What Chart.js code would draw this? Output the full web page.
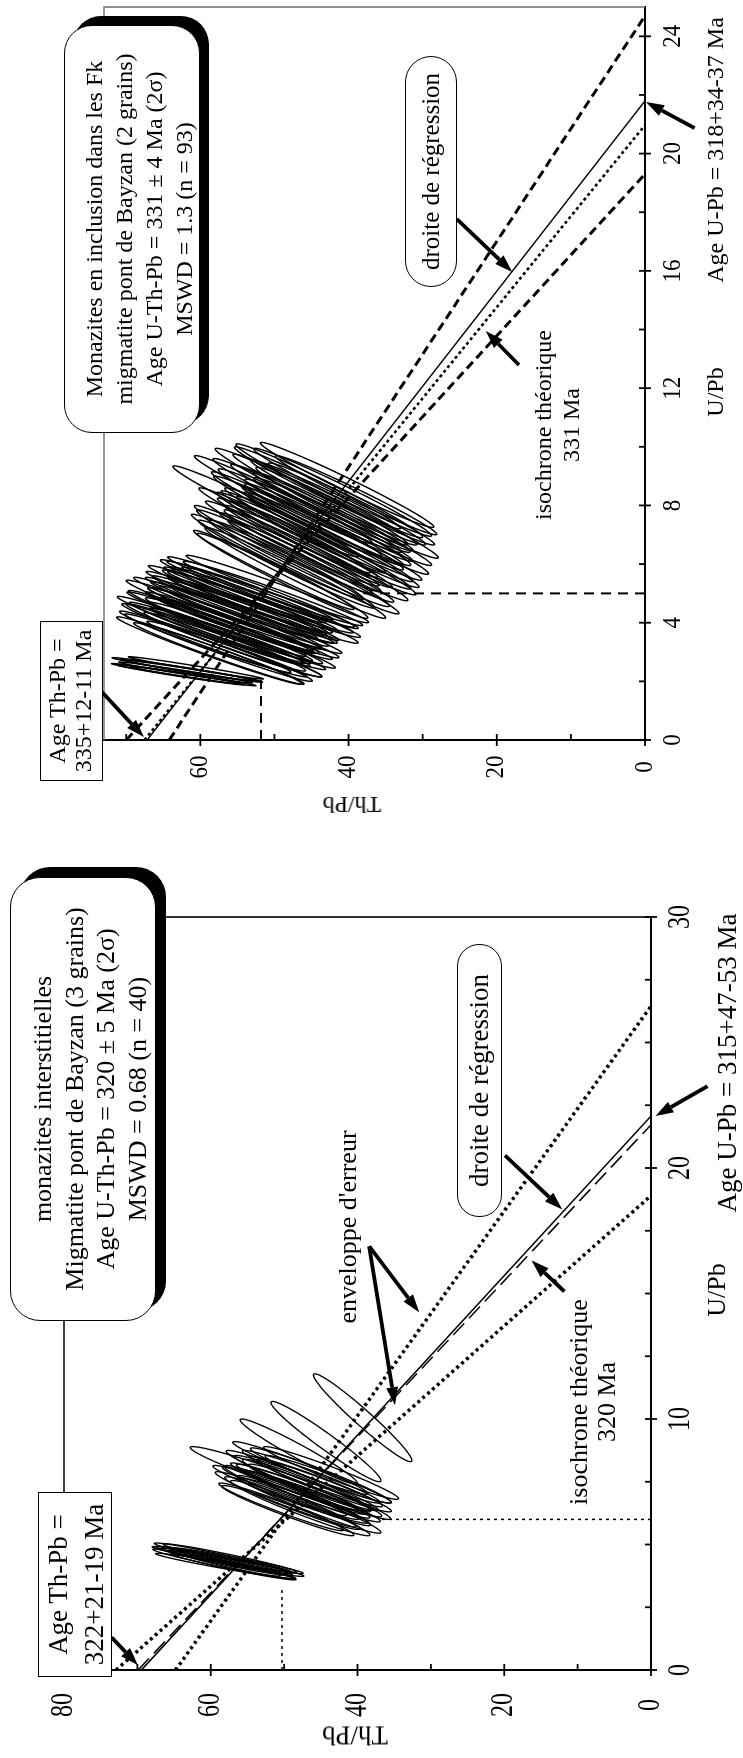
<!DOCTYPE html>
<html lang="fr"><head><meta charset="utf-8">
<script src="https://cdn.jsdelivr.net/npm/chart.js@4.4.1/dist/chart.umd.min.js"></script>
<style>
html,body{margin:0;padding:0;background:#fff}
body{position:relative;width:743px;height:1758px;overflow:hidden;font-family:"Liberation Serif","Times New Roman",serif;color:#000}
.panel{position:absolute;left:0;transform-origin:0 0;transform:rotate(-90deg)}
.panel canvas{position:absolute;left:0;top:0}
.c{position:absolute;white-space:nowrap;line-height:1;transform:translate(-50%,-50%);text-align:center}
.box{position:absolute;background:#fff;border:1.5px solid #000;box-sizing:border-box;text-align:center;white-space:nowrap}
</style></head><body>

<div class="panel" id="pTop" style="top:830px;width:830px;height:743px">
  <canvas id="cTop" width="830" height="743"></canvas>
  <div class="box" style="left:397px;top:64px;width:408px;height:136px;border-radius:28px;box-shadow:9px 9px 0 0 #000;font-size:24px;line-height:30px;padding-top:14px">Monazites en inclusion dans les Fk<br>migmatite pont de Bayzan (2 grains)<br>Age U-Th-Pb = 331 ± 4 Ma (2σ)<br>MSWD = 1.3 (n = 93)</div>
  <div class="box" style="left:49px;top:40px;width:160px;height:63px;font-size:24px;line-height:26px;padding-top:3px">Age Th-Pb =<br>335+12-11 Ma</div>
  <div class="box" style="left:543px;top:405px;width:231px;height:52px;border-radius:26px;font-size:25px;line-height:49px">droite de régression</div>
  <div class="c" style="left:405px;top:557px;font-size:24px;line-height:28px">isochrone théorique<br>331 Ma</div>
  <div class="c" style="left:438px;top:715px;font-size:24px">U/Pb</div>
  <div class="c" style="left:680px;top:715px;font-size:24px">Age U-Pb = 318+34-37 Ma</div>
  <div class="c" style="left:25px;top:352px;font-size:24px;transform:translate(-50%,-50%) rotate(-90deg)">Th/Pb</div>
</div>

<div class="panel" id="pBot" style="top:1758px;width:918px;height:743px">
  <canvas id="cBot" width="918" height="743"></canvas>
  <div class="box" style="left:437px;top:10px;width:444px;height:146px;border-radius:30px;box-shadow:10px 10px 0 0 #000;font-size:26px;line-height:31.5px;padding-top:16px">monazites interstitielles<br>Migmatite pont de Bayzan (3 grains)<br>Age U-Th-Pb = 320 ± 5 Ma (2σ)<br>MSWD = 0.68 (n = 40)</div>
  <div class="box" style="left:81px;top:38px;width:185px;height:74px;font-size:27px;line-height:36px;padding-top:1px">Age Th-Pb =<br>322+21-19 Ma</div>
  <div class="box" style="left:541px;top:457px;width:273px;height:45px;border-radius:22px;font-size:27px;line-height:42px">droite de régression</div>
  <div class="c" style="left:531px;top:348px;font-size:26px">enveloppe d'erreur</div>
  <div class="c" style="left:356px;top:593px;font-size:26px;line-height:28px">isochrone théorique<br>320 Ma</div>
  <div class="c" style="left:468px;top:717px;font-size:26px">U/Pb</div>
  <div class="c" style="left:695px;top:727px;font-size:27px">Age U-Pb = 315+47-53 Ma</div>
  <div class="c" style="left:23px;top:355px;font-size:27px;transform:translate(-50%,-50%) rotate(-90deg)">Th/Pb</div>
</div>

<script>
// ---------- DATA : panneau haut (monazites en inclusion) ----------
const topUMajor = [0, 4, 8, 12, 16, 20, 24];
const topUMinor = [2, 6, 10, 14, 18, 22];
const topThMajor = [0, 20, 40, 60];
const topThMinor = [10, 30, 50, 70];

const topEllU = [2.30,2.38,2.22,2.34,2.26,2.42,2.18,2.46,
  2.95,3.05,3.10,3.20,3.25,3.30,3.40,3.45,3.50,3.55,3.60,3.65,3.70,3.75,3.80,3.85,3.90,3.95,4.00,4.05,4.10,4.15,4.20,4.25,4.30,4.35,4.40,4.45,4.50,4.55,4.60,4.65,4.70,4.75,4.80,4.85,4.90,4.95,5.00,5.05,5.10,5.15,
  5.6,5.7,5.8,5.9,6.0,6.1,6.2,6.25,6.3,6.4,6.5,6.55,6.6,6.7,6.75,6.8,6.9,6.95,7.0,7.1,7.15,7.2,7.3,7.4,7.45,7.5,7.6,7.7,7.75,7.8,7.9,8.0,8.05,8.1,8.2,8.3,8.35,8.45,8.5,8.6,8.7,7.8,8.2];
const topEllTh = [62.0,61.4,62.6,60.8,63.2,62.4,61.0,60.6,
  57.5,58.8,56.4,57.9,55.6,59.0,56.8,54.9,58.2,56.0,57.4,54.6,55.9,58.6,53.8,56.6,55.2,57.8,54.2,56.1,53.2,55.4,57.0,52.9,54.7,56.3,52.4,54.0,55.8,51.9,53.6,55.1,51.2,53.0,54.6,50.6,52.4,54.0,50.2,51.8,53.3,49.6,
  48.9,47.2,50.1,46.0,48.4,45.1,47.5,49.6,44.4,46.5,48.8,43.5,45.4,47.6,42.8,44.7,46.9,42.1,44.0,46.1,48.6,41.6,43.5,45.4,40.8,42.7,44.6,47.0,40.2,42.1,43.8,45.6,39.6,41.4,43.2,45.0,39.0,40.8,42.6,44.2,40.2,51.2,48.8];
const topEllSU = [0.36,0.38,0.34,0.37,0.35,0.39,0.33,0.38,
  1.05,1.15,0.95,1.20,1.10,1.00,1.25,1.05,1.15,0.95,1.10,1.20,1.00,1.15,1.05,1.25,0.95,1.10,1.20,1.00,1.15,1.05,1.25,0.95,1.10,1.20,1.00,1.15,1.05,1.25,0.95,1.10,1.20,1.00,1.15,1.05,1.25,0.95,1.10,1.20,1.00,1.15,
  1.45,1.55,1.35,1.60,1.50,1.40,1.65,1.45,1.55,1.35,1.50,1.60,1.40,1.45,1.55,1.65,1.35,1.50,1.60,1.40,1.45,1.55,1.35,1.60,1.50,1.40,1.65,1.45,1.55,1.35,1.50,1.60,1.40,1.45,1.55,1.65,1.35,1.50,1.60,1.40,1.45,1.55,1.50];
const topEllSTh = [9.0,9.4,8.6,9.2,8.8,9.5,8.5,9.1,
  11.5,12.5,10.8,13.0,12.0,11.2,13.2,11.8,12.4,10.9,12.2,12.8,11.0,12.6,11.6,13.1,10.7,12.1,12.9,11.3,12.3,11.7,13.0,10.9,12.0,12.7,11.1,12.5,11.6,13.2,10.8,12.2,12.8,11.4,12.4,11.9,13.0,10.9,12.1,12.6,11.2,12.3,
  11.5,12.2,10.8,12.8,11.9,11.2,13.0,11.6,12.4,10.9,12.0,12.6,11.3,11.7,12.3,13.1,10.8,12.0,12.7,11.1,11.6,12.4,10.9,12.8,12.0,11.3,13.0,11.5,12.3,10.8,12.1,12.7,11.2,11.8,12.4,13.0,10.9,12.0,12.6,11.2,11.7,12.5,12.0];
const topRho = 0.985;

const topRegU = [0, 21.8],   topRegTh = [67.2, 0];     // droite de régression
const topIsoU = [0, 20.97],  topIsoTh = [67.55, 0];    // isochrone théorique 331 Ma
const topEnvAU = [0, 19.3],  topEnvATh = [70.0, 0];    // enveloppe d'erreur
const topEnvBU = [0, 24.7],  topEnvBTh = [64.2, 0];
const topProj1U = [5, 5],    topProj1Th = [0, 38];
const topProj2U = [0, 2.05], topProj2Th = [51.8, 51.8];

// ---------- DATA : panneau bas (monazites interstitielles) ----------
const botUMajor = [0, 10, 20, 30];
const botUMinor = [2.5, 5, 7.5, 12.5, 15, 17.5, 22.5, 25, 27.5];
const botThMajor = [0, 20, 40, 60, 80];
const botThMinor = [10, 30, 50, 70];

const botEllU = [4.30,4.42,4.20,4.36,4.50,4.15,4.28,4.46,4.24,4.38,4.12,
  6.35,6.45,6.5,6.6,6.65,6.75,6.8,6.9,6.95,7.0,7.05,7.1,7.2,7.25,7.3,7.35,7.45,7.5,7.55,7.6,7.7,7.75,7.15,7.85,
  10.05,9.1,8.7,8.05,7.6];
const botEllTh = [57.8,58.6,57.0,56.6,58.9,58.0,59.2,57.4,56.2,58.2,56.9,
  49.5,47.8,50.4,46.6,48.9,47.4,49.8,45.9,48.2,46.9,49.1,45.2,47.6,46.2,48.6,44.6,47.0,45.6,48.0,44.0,46.3,45.0,50.6,43.6,
  39.3,44.3,48.0,47.8,50.5];
const botEllSU = [0.55,0.50,0.58,0.52,0.56,0.50,0.54,0.57,0.51,0.55,0.53,
  1.00,1.10,0.95,1.15,1.05,0.90,1.10,1.00,1.20,0.95,1.05,1.10,1.00,1.15,0.95,1.05,1.10,1.00,1.20,0.95,1.05,1.10,1.00,1.05,
  1.75,1.6,1.3,1.05,1.3];
const botEllSTh = [9.0,9.4,8.6,9.2,8.8,9.5,8.7,9.1,8.9,9.3,8.5,
  9.0,9.5,8.5,9.8,9.2,8.8,9.6,9.0,10.0,8.6,9.3,9.7,8.9,9.5,8.7,9.2,9.8,9.0,9.9,8.6,9.4,9.6,9.1,9.2,
  6.7,7.5,8.0,9.2,12.3];
const botRho = 0.97;

const botRegU = [0, 22.07],  botRegTh = [69.45, 0];    // droite de régression
const botIsoU = [0, 21.72],  botIsoTh = [69.9, 0];     // isochrone théorique 320 Ma
const botEnvAU = [0, 18.9],  botEnvATh = [72.9, 0];    // enveloppe d'erreur
const botEnvBU = [0, 26.45], botEnvBTh = [64.8, 0];
const botProj1U = [6, 6],    botProj1Th = [0, 36.8];
const botProj2U = [0, 3.3],  botProj2Th = [50.3, 50.3];

// flèches d'annotation (queue U, queue Th, pointe U, pointe Th) en unités des axes
const topArrows = [[1.64,73.3,0.10,67.6],[20.87,-6.7,21.76,-0.13],[17.77,25.4,15.96,17.9],[12.79,17.0,13.95,21.5]];
const botArrows = [[1.30,73.5,0.19,69.9],[23.26,-7.7,22.07,-0.6],[20.5,19.9,18.35,12.1],[16.88,38.4,14.25,31.6],[16.88,38.4,10.55,34.9],[15.08,11.8,16.32,16.3]];

// ---------- rendering ----------
const pts = (xs, ys) => xs.map((v, i) => ({x: v, y: ys[i]}));
function lineDs(xs, ys, w, dash) {
  return {data: pts(xs, ys), showLine: true, pointRadius: 0, borderColor: '#000', borderWidth: w, borderDash: dash, fill: false, tension: 0};
}

const overlay = {
  id: 'overlay',
  afterDatasetsDraw(chart, args, o) {
    const {ctx, chartArea: a, scales: {x, y}} = chart;
    ctx.save();
    // ellipses
    ctx.strokeStyle = '#000'; ctx.lineWidth = o.ellW;
    const q = Math.sqrt(1 - o.rho * o.rho);
    for (let i = 0; i < o.eu.length; i++) {
      ctx.beginPath();
      for (let k = 0; k <= 90; k++) {
        const t = k / 90 * 2 * Math.PI;
        const u = o.eu[i] + o.su[i] * Math.cos(t);
        const th = o.eth[i] + o.sth[i] * (o.rho * Math.cos(t) + q * Math.sin(t));
        const px = x.getPixelForValue(u), py = y.getPixelForValue(th);
        if (k) ctx.lineTo(px, py); else ctx.moveTo(px, py);
      }
      ctx.closePath(); ctx.stroke();
    }
    // frame (top & right)
    ctx.strokeStyle = o.frameColor; ctx.lineWidth = 1.6;
    ctx.beginPath(); ctx.moveTo(a.left, a.top); ctx.lineTo(a.right, a.top); ctx.lineTo(a.right, a.bottom); ctx.stroke();
    // ticks
    ctx.strokeStyle = '#000'; ctx.lineWidth = 1.8;
    for (const t of x.ticks) {
      const px = x.getPixelForValue(t.value), maj = o.xMajor.includes(t.value);
      ctx.beginPath(); ctx.moveTo(px, a.bottom - 6); ctx.lineTo(px, maj ? a.bottom + 6 : a.bottom); ctx.stroke();
    }
    for (const t of y.ticks) {
      const py = y.getPixelForValue(t.value), maj = o.yMajor.includes(t.value);
      ctx.beginPath(); ctx.moveTo(a.left + 6, py); ctx.lineTo(maj ? a.left - 6 : a.left, py); ctx.stroke();
    }
    // tick labels
    ctx.fillStyle = '#000'; ctx.textAlign = 'center'; ctx.textBaseline = 'middle';
    ctx.font = o.font;
    for (const v of o.xMajor) {
      ctx.save(); ctx.translate(x.getPixelForValue(v), a.bottom + o.xOff); ctx.scale(1, o.sy);
      ctx.fillText(String(v), 0, 0); ctx.restore();
    }
    for (const v of o.yMajor) {
      ctx.save(); ctx.translate(a.left - o.yOff, y.getPixelForValue(v)); ctx.scale(1, o.sy);
      ctx.fillText(String(v), 0, 0); ctx.restore();
    }
    // arrows
    ctx.lineWidth = 3.8; ctx.lineCap = 'butt';
    for (const r of o.arrows) {
      const x0 = x.getPixelForValue(r[0]), y0 = y.getPixelForValue(r[1]);
      const x1 = x.getPixelForValue(r[2]), y1 = y.getPixelForValue(r[3]);
      const ang = Math.atan2(y1 - y0, x1 - x0), L = 18, W = 6;
      const bx = x1 - L * Math.cos(ang), by = y1 - L * Math.sin(ang);
      ctx.beginPath(); ctx.moveTo(x0, y0); ctx.lineTo(bx, by); ctx.stroke();
      ctx.beginPath(); ctx.moveTo(x1, y1);
      ctx.lineTo(bx + W * Math.sin(ang), by - W * Math.cos(ang));
      ctx.lineTo(bx - W * Math.sin(ang), by + W * Math.cos(ang));
      ctx.closePath(); ctx.fill();
    }
    ctx.restore();
  }
};

function makeChart(id, W, H, geo, xr, yr, datasets, o) {
  return new Chart(document.getElementById(id), {
    type: 'scatter',
    data: {datasets},
    options: {
      responsive: false, animation: false, devicePixelRatio: 1,
      layout: {padding: {left: 0, top: geo.top, right: W - geo.right, bottom: 0}},
      plugins: {legend: {display: false}, tooltip: {enabled: false}, overlay: o},
      scales: {
        x: {type: 'linear', min: xr[0], max: xr[1],
            afterBuildTicks: s => { s.ticks = o.xMajor.concat(o.xMinor).sort((a, b) => a - b).map(v => ({value: v})); },
            afterFit: s => { s.height = H - geo.bottom; },
            ticks: {display: false}, grid: {display: false, drawTicks: false},
            border: {display: true, color: '#000', width: 2}},
        y: {type: 'linear', min: yr[0], max: yr[1],
            afterBuildTicks: s => { s.ticks = o.yMajor.concat(o.yMinor).sort((a, b) => a - b).map(v => ({value: v})); },
            afterFit: s => { s.width = geo.left; },
            ticks: {display: false}, grid: {display: false, drawTicks: false},
            border: {display: true, color: '#000', width: 2}}
      }
    },
    plugins: [overlay]
  });
}

makeChart('cTop', 830, 743, {left: 90, right: 823, top: 104, bottom: 645}, [0, 25], [0, 73], [
  lineDs(topEnvAU, topEnvATh, 3, [9, 5]),
  lineDs(topEnvBU, topEnvBTh, 3, [9, 5]),
  lineDs(topIsoU, topIsoTh, 2.6, [3, 3]),
  lineDs(topRegU, topRegTh, 1.5, []),
  lineDs(topProj1U, topProj1Th, 2, [10, 7]),
  lineDs(topProj2U, topProj2Th, 2, [10, 7])
], {eu: topEllU, eth: topEllTh, su: topEllSU, sth: topEllSTh, rho: topRho, ellW: 1.45,
    xMajor: topUMajor, xMinor: topUMinor, yMajor: topThMajor, yMinor: topThMinor,
    font: '23px "Liberation Serif", serif', sy: 1.1, xOff: 28, yOff: 27, frameColor: '#777', arrows: topArrows});

makeChart('cBot', 918, 743, {left: 88, right: 841, top: 64, bottom: 651}, [0, 30], [0, 80], [
  lineDs(botEnvAU, botEnvATh, 3.5, [3, 3.5]),
  lineDs(botEnvBU, botEnvBTh, 3.5, [3, 3.5]),
  lineDs(botIsoU, botIsoTh, 1.5, [16, 7]),
  lineDs(botRegU, botRegTh, 1.5, []),
  lineDs(botProj1U, botProj1Th, 1.5, [3, 4]),
  lineDs(botProj2U, botProj2Th, 1.5, [3, 4])
], {eu: botEllU, eth: botEllTh, su: botEllSU, sth: botEllSTh, rho: botRho, ellW: 1.35,
    xMajor: botUMajor, xMinor: botUMinor, yMajor: botThMajor, yMinor: botThMinor,
    font: '24px "Liberation Serif", serif', sy: 1.3, xOff: 30, yOff: 35, frameColor: '#000', arrows: botArrows});
</script>
</body></html>
